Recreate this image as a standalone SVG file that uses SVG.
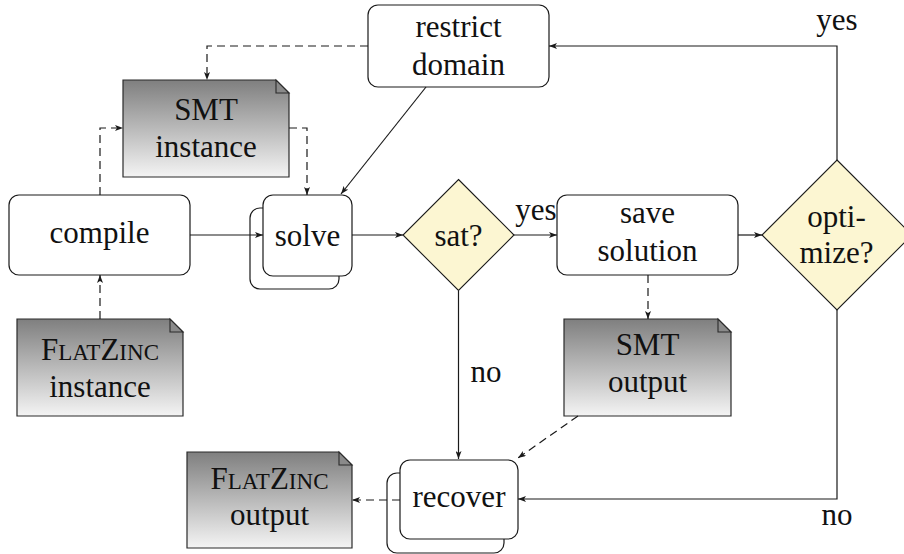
<svg xmlns="http://www.w3.org/2000/svg" width="904" height="554" viewBox="0 0 904 554" font-family="'Liberation Serif', 'Times New Roman', 'DejaVu Serif', serif">
  <style>
    .box { fill: #ffffff; stroke: #1a1a1a; stroke-width: 1.2; }
    .dec { fill: #fcf6d2; stroke: #1a1a1a; stroke-width: 1.1; }
    .doc { fill: url(#docGrad); stroke: #2a2a2a; stroke-width: 1.2; }
    .fold { fill: #8a8a8a; stroke: #2a2a2a; stroke-width: 1.1; }
    text { font-family: 'Liberation Serif', 'Times New Roman', 'DejaVu Serif', serif; font-size: 31px; fill: #111; text-anchor: middle; }
    .sc { font-size: 23px; }
    .edge { fill: none; stroke: #1a1a1a; stroke-width: 1.2; marker-end: url(#arr); }
    .dash { stroke-dasharray: 8 5; }
  </style>
  <defs>
    <linearGradient id="docGrad" x1="0" y1="0" x2="0" y2="1">
      <stop offset="0" stop-color="#7f7f7f"/>
      <stop offset="1" stop-color="#f4f4f4"/>
    </linearGradient>
    <marker id="arr" viewBox="0 0 8 6" refX="8" refY="3" markerWidth="8" markerHeight="6" markerUnits="userSpaceOnUse" orient="auto">
      <path d="M0,0 L8,3 L0,6 L2,3 z" fill="#1a1a1a"/>
    </marker>
  </defs>

  <g id="restrict">
    <rect class="box" x="368" y="5" width="181" height="82" rx="10"/>
    <text x="458.5" y="37">restrict</text>
    <text x="458.5" y="75">domain</text>
  </g>

  <g id="smt-instance">
    <path class="doc" d="M123,80 H276 L289,93 V177 H123 Z"/>
    <path class="fold" d="M276,80 V93 H289 Z"/>
    <text x="206" y="120">SMT</text>
    <text x="206" y="157">instance</text>
  </g>

  <g id="compile">
    <rect class="box" x="9" y="195" width="181" height="80" rx="10"/>
    <text x="99.5" y="243">compile</text>
  </g>

  <g id="solve">
    <rect class="box" x="250" y="208" width="89" height="81" rx="10"/>
    <rect class="box" x="263" y="195" width="89" height="81" rx="10"/>
    <text x="307.5" y="246">solve</text>
  </g>

  <g id="sat">
    <polygon class="dec" points="458.5,179.5 514,235 458.5,290.5 403,235"/>
    <text x="458.5" y="246">sat?</text>
  </g>

  <g id="save">
    <rect class="box" x="557" y="195" width="181" height="80" rx="10"/>
    <text x="647.5" y="223">save</text>
    <text x="647.5" y="261">solution</text>
  </g>

  <g id="optimize">
    <polygon class="dec" points="837,160 912,235 837,310 762,235"/>
    <text x="836.5" y="227">opti-</text>
    <text x="836.5" y="263">mize?</text>
  </g>

  <g id="flatzinc-instance">
    <path class="doc" d="M17,319 H170 L183,332 V416 H17 Z"/>
    <path class="fold" d="M170,319 V332 H183 Z"/>
    <text x="100" y="360">F<tspan class="sc">LAT</tspan>Z<tspan class="sc">INC</tspan></text>
    <text x="100" y="397">instance</text>
  </g>

  <g id="smt-output">
    <path class="doc" d="M564,319 H718 L731,332 V416 H564 Z"/>
    <path class="fold" d="M718,319 V332 H731 Z"/>
    <text x="647.5" y="355">SMT</text>
    <text x="647.5" y="392">output</text>
  </g>

  <g id="recover">
    <rect class="box" x="387" y="473" width="117" height="80" rx="10"/>
    <rect class="box" x="400" y="460" width="118" height="79" rx="10"/>
    <text x="459" y="507">recover</text>
  </g>

  <g id="flatzinc-output">
    <path class="doc" d="M187,452 H339 L352,465 V548 H187 Z"/>
    <path class="fold" d="M339,452 V465 H352 Z"/>
    <text x="269.5" y="489">F<tspan class="sc">LAT</tspan>Z<tspan class="sc">INC</tspan></text>
    <text x="269.5" y="525">output</text>
  </g>

  <!-- connectors, drawn over the stacked node outlines -->
  <g id="connectors">
    <path class="edge dash" d="M368,46 H207 V80"/>
    <path class="edge dash" d="M100,195 V128 H123"/>
    <path class="edge dash" d="M289,128 H307 V195"/>
    <path class="edge" d="M190,235 H263"/>
    <path class="edge" d="M426,87 L341,194"/>
    <path class="edge" d="M352,235 H403"/>
    <path class="edge" d="M514,235 H557"/>
    <path class="edge" d="M738,235 H762"/>
    <path class="edge" d="M837,160 V46 H549"/>
    <path class="edge" d="M458.5,291 V459"/>
    <path class="edge dash" d="M648,275 V319"/>
    <path class="edge dash" d="M578,416 L518,458"/>
    <path class="edge" d="M837,310 V499 H518"/>
    <path class="edge dash" d="M400,500 H352"/>
    <path class="edge dash" d="M100,319 V275"/>
    <text x="536" y="220">yes</text>
    <text x="837" y="30">yes</text>
    <text x="486" y="382">no</text>
    <text x="837" y="525">no</text>
  </g>
</svg>
